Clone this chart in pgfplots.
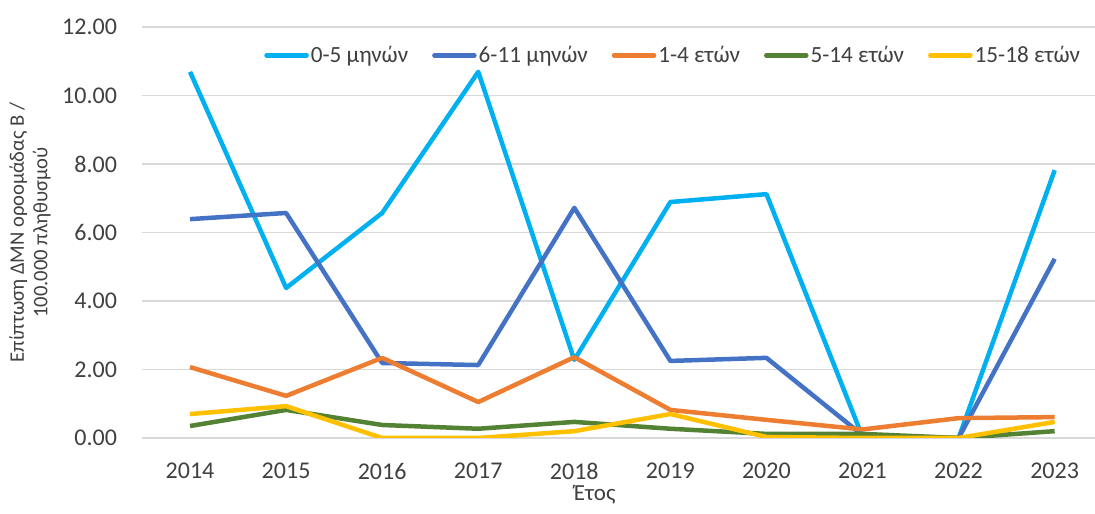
\documentclass[border=0pt]{standalone}
\usepackage{pgfplots}
\pgfplotsset{compat=1.18}
\usepackage{fontspec}
\setmainfont{Carlito}
\definecolor{cA}{HTML}{00B0F0}
\definecolor{cB}{HTML}{4472C4}
\definecolor{cC}{HTML}{ED7D31}
\definecolor{cD}{HTML}{548235}
\definecolor{cE}{HTML}{FFC000}
\definecolor{gridc}{HTML}{D9D9D9}
\definecolor{txt}{HTML}{404040}
\begin{document}
\begin{tikzpicture}
\useasboundingbox (-71pt,-37.5pt) rectangle (476.5pt,219pt);
\begin{axis}[
  scale only axis, width=476.5pt, height=205.5pt,
  xmin=2013.5, xmax=2023.42, ymin=0, ymax=12,
  ytick={0,2,...,12}, xtick={2014,...,2023},
  /pgf/number format/assume math mode=true,
  xticklabel style={/pgf/number format/1000 sep={}, font=\fontsize{12}{14}\selectfont, color=txt},
  yticklabel style={/pgf/number format/fixed, /pgf/number format/fixed zerofill, /pgf/number format/precision=2, font=\fontsize{12}{14}\selectfont, color=txt},
  yticklabel shift=9pt,
  xticklabel shift=9pt,
  axis line style={draw=none},
  major tick length=0pt,
  ymajorgrids, grid style={color=gridc, line width=0.9pt},
  ylabel={Επίπτωση ΔΜΝ οροομάδας Β /\\100.000 πληθυσμού},
  ylabel style={at={(axis description cs:-0.1175,0.5)}, anchor=center, align=center, font=\fontsize{10.3}{11.8}\selectfont, color=txt},
  xlabel={Έτος},
  xlabel style={at={(axis description cs:0.475,-0.138)}, anchor=center, font=\fontsize{11.5}{13}\selectfont, color=txt},
  legend style={at={(axis description cs:0.993,0.975)}, anchor=north east, draw=none, fill=none, font=\fontsize{11.6}{13}\selectfont, text=txt, legend columns=-1,
    /tikz/every odd column/.append style={column sep=0pt},
    /tikz/every even column/.append style={column sep=11pt},
    nodes={inner xsep=1pt}},
  legend image code/.code={\draw[#1, line cap=round] (0pt,0pt) -- (20pt,0pt);},
  every axis plot/.append style={line width=2.25pt, line join=round, no markers},
]
\addplot[cA] coordinates {(2014,10.69) (2015,4.38) (2016,6.57) (2017,10.69) (2018,2.28) (2019,6.89) (2020,7.12) (2021,0.03) (2022,0) (2023,7.82)};
\addlegendentry{0-5 μηνών}
\addplot[cB] coordinates {(2014,6.39) (2015,6.57) (2016,2.19) (2017,2.13) (2018,6.72) (2019,2.25) (2020,2.34) (2021,0.08) (2022,0) (2023,5.23)};
\addlegendentry{6-11 μηνών}
\addplot[cC] coordinates {(2014,2.07) (2015,1.23) (2016,2.34) (2017,1.05) (2018,2.36) (2019,0.82) (2020,0.53) (2021,0.25) (2022,0.58) (2023,0.61)};
\addlegendentry{1-4 ετών}
\addplot[cD] coordinates {(2014,0.35) (2015,0.82) (2016,0.38) (2017,0.27) (2018,0.47) (2019,0.27) (2020,0.12) (2021,0.12) (2022,0) (2023,0.2)};
\addlegendentry{5-14 ετών}
\addplot[cE] coordinates {(2014,0.70) (2015,0.93) (2016,0) (2017,0) (2018,0.2) (2019,0.70) (2020,0.03) (2021,0) (2022,0) (2023,0.47)};
\addlegendentry{15-18 ετών}
\end{axis}
\end{tikzpicture}
\end{document}
